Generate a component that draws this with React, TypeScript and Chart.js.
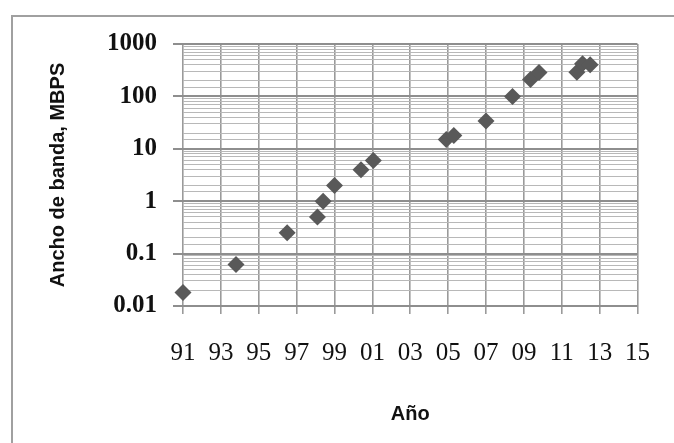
import React, { useEffect, useRef } from "react";
import { Chart, registerables } from "chart.js";

Chart.register(...registerables);

// Data
const years: number[] = [1991.0, 1993.8, 1996.5, 1998.1, 1998.4, 1999.0, 2000.4, 2001.05, 2004.9, 2005.3, 2007.0, 2008.4, 2009.35, 2009.8, 2011.8, 2012.1, 2012.5];
const bandwidth: number[] = [0.018, 0.062, 0.25, 0.5, 1.0, 2.0, 4.0, 6.0, 15, 18, 34, 100, 210, 285, 290, 420, 400];

const xMin = 1991;
const xMax = 2015;
const xStep = 2;
const yMin = 0.01;
const yMax = 1000;
const yTickLabels: Record<string, string> = { "0.01": "0.01", "0.1": "0.1", "1": "1", "10": "10", "100": "100", "1000": "1000" };

const yTitle = "Ancho de banda, MBPS";
const xTitle = "Año";

const isDecade = (v: number) => {
  const l = Math.log10(v);
  return Math.abs(l - Math.round(l)) < 1e-9;
};

export default function App() {
  const ref = useRef<HTMLCanvasElement | null>(null);

  useEffect(() => {
    if (!ref.current) return;
    const points = years.map((x, i) => ({ x, y: bandwidth[i] }));
    const chart = new Chart(ref.current, {
      type: "scatter",
      data: {
        datasets: [
          {
            data: points,
            pointStyle: "rectRot",
            pointRadius: 8.5,
            pointHoverRadius: 8.5,
            backgroundColor: "#595959",
            borderColor: "#595959",
            borderWidth: 0,
            clip: false,
          },
        ],
      },
      options: {
        animation: false,
        responsive: false,
        maintainAspectRatio: false,
        layout: { padding: { top: 44, right: 29, left: 0, bottom: 0 } },
        plugins: { legend: { display: false }, tooltip: { enabled: false } },
        scales: {
          x: {
            type: "linear",
            min: xMin,
            max: xMax,
            afterFit: (s: any) => {
              s.height = 137;
            },
            afterBuildTicks: (s: any) => {
              const t = [];
              for (let v = xMin; v <= xMax; v += xStep) t.push({ value: v });
              s.ticks = t;
            },
            ticks: {
              padding: 24,
              color: "#111",
              font: { family: "'Liberation Serif', serif", size: 25 },
              callback: (v: any) => String(Number(v) % 100).padStart(2, "0"),
              maxRotation: 0,
              autoSkip: false,
            },
            grid: {
              color: "#9a9a9a",
              lineWidth: 1.6,
              tickLength: 8,
              tickColor: "#9a9a9a",
            },
            border: { display: false },
            title: {
              display: true,
              text: xTitle,
              color: "#111",
              font: { family: "'Liberation Sans', Arial, sans-serif", size: 20, weight: "bold" },
              padding: { top: 0, bottom: 17 },
            },
          },
          y: {
            type: "logarithmic",
            min: yMin,
            max: yMax,
            afterFit: (s: any) => {
              s.width = 183;
            },
            ticks: {
              autoSkip: false,
              padding: 16,
              color: "#111",
              font: { family: "'Liberation Serif', serif", size: 25, weight: "bold" },
              callback: (v: any) => {
                const n = Number(v);
                if (!isDecade(n)) return "";
                const key = String(Math.round(Math.log10(n)) < 0 ? n.toFixed(-Math.round(Math.log10(n))) : Math.round(n));
                return yTickLabels[key] ?? key;
              },
            },
            grid: {
              color: (ctx: any) => (ctx.tick && isDecade(ctx.tick.value) ? "#8e8e8e" : "#b8b8b8"),
              lineWidth: (ctx: any) => (ctx.tick && isDecade(ctx.tick.value) ? 2 : 1),
              tickLength: 10,
              tickColor: (ctx: any) => (ctx.tick && isDecade(ctx.tick.value) ? "#8e8e8e" : "rgba(0,0,0,0)"),
            },
            border: { display: false },
            title: {
              display: true,
              text: yTitle,
              color: "#111",
              font: { family: "'Liberation Sans', Arial, sans-serif", size: 20, weight: "bold" },
              padding: { top: 46, bottom: 0 },
            },
          },
        },
      },
    });
    return () => chart.destroy();
  }, []);

  return (
    <div style={{ position: "absolute", left: 0, top: 0, width: 674, height: 443, background: "#fff", overflow: "hidden" }}>
      <div
        style={{
          position: "absolute",
          left: 11,
          top: 15,
          width: 720,
          height: 520,
          borderLeft: "2px solid #a0a0a0",
          borderTop: "2px solid #a0a0a0",
        }}
      />
      <canvas ref={ref} width={674} height={443} style={{ position: "absolute", left: 0, top: 0, width: 674, height: 443 }} />
    </div>
  );
}
